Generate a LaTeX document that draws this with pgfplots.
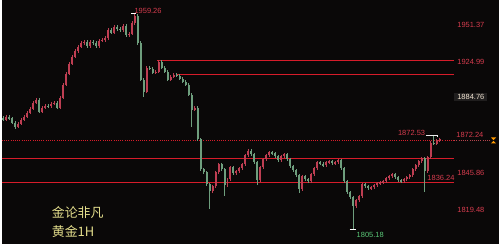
\documentclass[border=0pt]{standalone}
\usepackage{pgfplots}
\usepackage{pgfplotstable}
\pgfplotsset{compat=1.18}
\usepackage{fontspec}
\setmainfont{Liberation Sans}
\newfontfamily\cjk{Noto Sans CJK SC}
\definecolor{bgc}{RGB}{10,8,8}
\definecolor{upc}{RGB}{190,62,82}
\definecolor{downc}{RGB}{110,158,125}
\definecolor{lvl}{RGB}{215,28,42}
\definecolor{lbl}{RGB}{214,60,78}
\definecolor{grn}{RGB}{90,200,120}
\definecolor{ylw}{RGB}{228,222,140}
\definecolor{boxbg}{RGB}{32,30,30}
\definecolor{boxtx}{RGB}{242,228,210}
\pgfplotstableread{
x o h l c
1.5 1884.8 1886.0 1882.4 1883.6
4.5 1883.6 1887.0 1882.6 1885.8
7.5 1885.8 1886.8 1883.2 1884.4
10.5 1884.4 1885.4 1880.3 1881.5
13.5 1881.5 1882.7 1877.2 1878.6
16.5 1878.6 1882.0 1877.6 1880.8
19.5 1880.8 1884.8 1879.6 1883.6
22.5 1883.6 1887.0 1882.6 1885.8
25.5 1885.8 1889.8 1884.6 1888.6
28.5 1888.6 1892.7 1887.4 1891.5
31.5 1891.5 1897.0 1890.3 1895.8
34.5 1895.8 1899.1 1894.6 1897.9
37.5 1897.9 1899.0 1888.1 1889.3
40.5 1889.3 1893.4 1888.1 1892.2
43.5 1892.2 1894.8 1891.0 1893.6
46.5 1893.6 1894.8 1891.8 1893.0
49.5 1893.0 1896.2 1891.8 1895.0
52.5 1895.0 1897.0 1893.8 1895.8
55.5 1895.8 1897.0 1891.0 1892.2
58.5 1892.2 1900.5 1891.0 1899.3
61.5 1899.3 1909.8 1898.1 1908.6
64.5 1908.6 1917.6 1907.4 1916.4
67.5 1916.4 1924.8 1915.2 1923.6
70.5 1923.6 1929.8 1922.4 1928.6
73.5 1928.6 1934.0 1927.4 1932.8
76.5 1932.8 1936.9 1931.6 1935.7
79.5 1935.7 1939.7 1934.5 1938.5
82.5 1938.5 1940.5 1937.3 1939.3
85.5 1939.3 1940.5 1935.2 1936.4
88.5 1936.4 1940.5 1935.2 1939.3
91.5 1939.3 1940.5 1937.3 1938.5
94.5 1938.5 1939.7 1935.2 1936.4
97.5 1936.4 1941.2 1935.2 1940.0
100.5 1940.0 1941.9 1938.8 1940.7
103.5 1940.7 1943.3 1939.5 1942.1
106.5 1942.1 1949.0 1940.9 1947.8
109.5 1947.8 1949.0 1944.5 1945.7
112.5 1945.7 1951.1 1944.5 1949.9
115.5 1949.9 1951.1 1947.3 1948.5
118.5 1948.5 1949.7 1946.6 1947.8
121.5 1947.8 1951.9 1946.6 1950.7
124.5 1950.7 1951.9 1943.0 1944.2
127.5 1944.2 1946.2 1943.0 1945.0
130.5 1945.0 1954.0 1943.8 1952.8
133.5 1952.8 1959.26 1951.6 1957.8
136.5 1957.8 1959.0 1937.3 1938.5
139.5 1938.5 1939.7 1911.0 1912.2
142.5 1912.2 1913.4 1900.0 1903.6
145.5 1903.6 1921.9 1902.4 1920.7
148.5 1920.7 1921.9 1918.8 1920.0
151.5 1920.0 1921.2 1915.9 1917.1
154.5 1917.1 1919.1 1915.9 1917.9
157.5 1917.9 1926.2 1916.7 1925.0
160.5 1925.0 1926.2 1919.5 1920.7
163.5 1920.7 1921.9 1916.7 1917.9
166.5 1917.9 1919.1 1911.0 1912.2
169.5 1912.2 1915.5 1911.0 1914.3
172.5 1914.3 1916.9 1913.1 1915.7
175.5 1915.7 1916.9 1913.8 1915.0
178.5 1915.0 1916.2 1911.7 1912.9
181.5 1912.9 1914.1 1909.5 1910.7
184.5 1910.7 1911.9 1907.4 1908.6
187.5 1908.6 1909.8 1900.3 1901.5
190.5 1901.5 1902.7 1878.6 1890.8
193.5 1890.8 1893.4 1889.6 1892.2
196.5 1892.2 1893.4 1868.2 1869.4
199.5 1869.4 1870.6 1846.8 1848.0
202.5 1848.0 1849.2 1844.7 1845.9
205.5 1845.9 1847.1 1836.1 1837.3
208.5 1837.3 1838.5 1819.5 1832.3
211.5 1832.3 1837.1 1831.1 1835.9
214.5 1835.9 1847.1 1834.7 1845.9
217.5 1845.9 1852.8 1844.7 1851.6
220.5 1851.6 1852.8 1846.8 1848.0
223.5 1848.0 1849.2 1828.7 1836.6
226.5 1836.6 1842.1 1835.4 1840.9
229.5 1840.9 1850.6 1839.7 1849.4
232.5 1849.4 1850.6 1843.9 1845.1
235.5 1845.1 1847.8 1843.9 1846.6
238.5 1846.6 1849.9 1845.4 1848.7
241.5 1848.7 1852.8 1847.5 1851.6
244.5 1851.6 1859.2 1850.4 1858.0
247.5 1858.0 1862.7 1856.8 1861.5
250.5 1861.5 1862.7 1857.5 1858.7
253.5 1858.7 1859.9 1851.8 1853.0
256.5 1853.0 1854.2 1836.5 1840.1
259.5 1840.1 1850.6 1838.9 1849.4
262.5 1849.4 1856.3 1848.2 1855.1
265.5 1855.1 1859.2 1853.9 1858.0
268.5 1858.0 1861.3 1856.8 1860.1
271.5 1860.1 1861.3 1858.2 1859.4
274.5 1859.4 1860.6 1856.1 1857.3
277.5 1857.3 1858.5 1853.2 1854.4
280.5 1854.4 1858.5 1853.2 1857.3
283.5 1857.3 1859.9 1856.1 1858.7
286.5 1858.7 1859.9 1853.9 1855.1
289.5 1855.1 1856.3 1848.9 1850.1
292.5 1850.1 1851.3 1846.1 1847.3
295.5 1847.3 1848.5 1842.5 1843.7
298.5 1843.7 1844.9 1831.0 1833.7
301.5 1833.7 1844.2 1832.5 1843.0
304.5 1843.0 1844.2 1839.7 1840.9
307.5 1840.9 1842.1 1838.2 1839.4
310.5 1839.4 1845.6 1838.2 1844.4
313.5 1844.4 1849.9 1843.2 1848.7
316.5 1848.7 1854.2 1847.5 1853.0
319.5 1853.0 1854.2 1850.8 1852.0
322.5 1852.0 1853.2 1849.6 1850.8
325.5 1850.8 1854.2 1849.6 1853.0
328.5 1853.0 1854.9 1851.8 1853.7
331.5 1853.7 1854.9 1851.1 1852.3
334.5 1852.3 1854.2 1851.1 1853.0
337.5 1853.0 1855.6 1851.8 1854.4
340.5 1854.4 1855.6 1847.5 1848.7
343.5 1848.7 1849.9 1838.2 1839.4
346.5 1839.4 1840.6 1830.4 1831.6
349.5 1831.6 1832.8 1826.8 1828.0
352.5 1828.0 1829.2 1805.18 1821.6
355.5 1821.6 1827.1 1820.4 1825.9
358.5 1825.9 1829.9 1824.7 1828.7
361.5 1828.7 1838.5 1827.5 1837.3
364.5 1837.3 1838.5 1834.7 1835.9
367.5 1835.9 1837.1 1833.2 1834.4
370.5 1834.4 1836.4 1833.2 1835.2
373.5 1835.2 1837.8 1834.0 1836.6
376.5 1836.6 1839.2 1835.4 1838.0
379.5 1838.0 1839.9 1836.8 1838.7
382.5 1838.7 1840.6 1837.5 1839.4
385.5 1839.4 1842.8 1838.2 1841.6
388.5 1841.6 1844.2 1840.4 1843.0
391.5 1843.0 1845.6 1841.8 1844.4
394.5 1844.4 1845.6 1841.1 1842.3
397.5 1842.3 1843.5 1838.9 1840.1
400.5 1840.1 1841.3 1838.2 1839.4
403.5 1839.4 1842.1 1838.2 1840.9
406.5 1840.9 1843.5 1839.7 1842.3
409.5 1842.3 1844.9 1841.1 1843.7
412.5 1843.7 1849.2 1842.5 1848.0
415.5 1848.0 1852.0 1846.8 1850.8
418.5 1850.8 1854.9 1849.6 1853.7
421.5 1853.7 1857.0 1852.5 1855.8
424.5 1855.8 1857.0 1831.6 1846.6
427.5 1846.6 1857.7 1845.4 1856.5
430.5 1856.5 1868.4 1855.3 1867.2
433.5 1867.2 1872.53 1865.3 1866.5
436.5 1866.5 1869.9 1865.3 1868.7
439.5 1868.7 1870.6 1867.5 1869.4
}\candles
\begin{document}
\begin{tikzpicture}
\fill[bgc] (0,0) rectangle (499pt,245pt);
\begin{axis}[
  at={(0,0)}, anchor=south west,
  scale only axis, width=499pt, height=245pt,
  xmin=0, xmax=499, ymin=1794.52, ymax=1969.19,
  hide axis, clip=false,
  unbounded coords=discard,
  font=\fontsize{7.5}{9}\selectfont,
]
% level lines
\addplot[color=lvl, solid, line width=1pt, mark=none, forget plot] coordinates {(156,1925.70) (454,1925.70)};
\addplot[color=lvl, solid, line width=1pt, mark=none, forget plot] coordinates {(175,1915.72) (454,1915.72)};
\addplot[color=lvl, solid, line width=1pt, mark=none, forget plot] coordinates {(0,1855.83) (454,1855.83)};
\addplot[color=lvl, solid, line width=1pt, mark=none, forget plot] coordinates {(0,1838.72) (454,1838.72)};
\addplot[color=lvl, line width=1pt, dash pattern=on 1pt off 1.2pt, mark=none, forget plot] coordinates {(0,1868.66) (454,1868.66)};
\addplot[color=lvl!60!gray, line width=1pt, dash pattern=on 1pt off 1.2pt, mark=none, forget plot] coordinates {(454,1868.66) (490,1868.66)};
% wicks
\addplot[draw=none, mark=none, forget plot,
  error bars/.cd, y dir=both, y explicit, error mark=none,
  error bar style={draw=upc, solid, line width=0.7pt}]
  table[x=x, y expr={\thisrow{c}>=\thisrow{o} ? (\thisrow{h}+\thisrow{l})/2 : nan},
        y error expr={(\thisrow{h}-\thisrow{l})/2}] {\candles};
\addplot[draw=none, mark=none, forget plot,
  error bars/.cd, y dir=both, y explicit, error mark=none,
  error bar style={draw=downc, solid, line width=0.7pt}]
  table[x=x, y expr={\thisrow{c}<\thisrow{o} ? (\thisrow{h}+\thisrow{l})/2 : nan},
        y error expr={(\thisrow{h}-\thisrow{l})/2}] {\candles};
% bodies
\addplot[draw=none, mark=none, forget plot,
  error bars/.cd, y dir=both, y explicit, error mark=none,
  error bar style={draw=upc, solid, line width=2pt, line cap=butt}]
  table[x=x, y expr={\thisrow{c}>=\thisrow{o} ? (\thisrow{o}+\thisrow{c})/2 : nan},
        y error expr={max(abs(\thisrow{c}-\thisrow{o})/2,0.35)}] {\candles};
\addplot[draw=none, mark=none, forget plot,
  error bars/.cd, y dir=both, y explicit, error mark=none,
  error bar style={draw=downc, solid, line width=2pt, line cap=butt}]
  table[x=x, y expr={\thisrow{c}<\thisrow{o} ? (\thisrow{o}+\thisrow{c})/2 : nan},
        y error expr={max(abs(\thisrow{c}-\thisrow{o})/2,0.35)}] {\candles};
% extreme markers
\draw[white, line width=0.8pt] (axis cs:130,1959.26) -- (axis cs:135,1959.26);
\draw[white, line width=0.8pt] (axis cs:349,1805.18) -- (axis cs:355,1805.18);
\draw[white!85!gray, line width=0.8pt] (axis cs:426,1872.53) -- (axis cs:437,1872.53) -- (axis cs:437,1871.0);
% data labels
\node[anchor=west, text=lbl, inner sep=0pt] at (axis cs:133,1961.4) {1959.26};
\node[anchor=east, text=lbl, inner sep=0pt] at (axis cs:425,1874.4) {1872.53};
\node[anchor=west, text=lbl, inner sep=0pt] at (axis cs:427,1841.6) {1836.24};
\node[anchor=west, text=grn, inner sep=0pt] at (axis cs:356,1800.9) {1805.18};
% right scale labels
\node[anchor=west, text=lbl, inner sep=0pt] at (axis cs:457,1951.37) {1951.37};
\node[anchor=west, text=lbl, inner sep=0pt] at (axis cs:457,1925.0) {1924.99};
\node[anchor=west, fill=boxbg, text=boxtx, inner sep=1.2pt, minimum width=33pt] at (axis cs:454,1899.7) {1884.76};
\node[anchor=west, text=lbl, inner sep=0pt] at (axis cs:456,1872.4) {1872.24};
\node[anchor=west, text=lbl, inner sep=0pt] at (axis cs:457,1845.8) {1845.86};
\node[anchor=west, text=lbl, inner sep=0pt] at (axis cs:457,1819.3) {1819.48};
\fill[orange!80!yellow] (axis cs:491,1870.8) -- (axis cs:496,1870.8) -- (axis cs:493.5,1868.9) -- cycle;
\fill[orange!80!yellow] (axis cs:491,1866.6) -- (axis cs:496,1866.6) -- (axis cs:493.5,1868.4) -- cycle;
% watermark text
\node[anchor=west, text=ylw, inner sep=0pt] at (axis cs:50,1817.3) {\cjk\fontsize{13}{15}\selectfont 金论非凡};
\node[anchor=west, text=ylw, inner sep=0pt] at (axis cs:50,1803.8) {\cjk\fontsize{13}{15}\selectfont 黄金1H};
\end{axis}
\end{tikzpicture}
\end{document}
